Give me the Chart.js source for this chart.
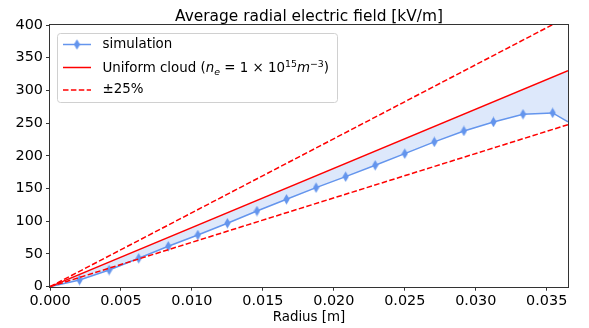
<!DOCTYPE html>
<html><head><meta charset="utf-8">
<script src="https://cdn.jsdelivr.net/npm/chart.js@4"></script>
<style>html,body{margin:0;padding:0;background:#fff}#wrap{width:589px;height:328px}</style>
</head><body><div id="wrap"><canvas id="c" width="589" height="328"></canvas></div>
<script>
// ---- data ----
const radius = [0, 0.002083, 0.004167, 0.00625, 0.008333, 0.010417, 0.0125, 0.014583, 0.016667, 0.01875, 0.020833, 0.022917, 0.025, 0.027083, 0.029167, 0.03125, 0.033333, 0.035417, 0.0365];
const efield = [0, 10.2, 25.5, 43.4, 61.8, 79.0, 97.0, 115.7, 133.6, 151.4, 168.2, 185.6, 203.4, 221.3, 238.0, 251.8, 263.6, 265.6, 252.0];
const modelRadius = [0, 0.0365];
const uniformField = [0, 330.2];
const upperField = [0, 412.8];
const lowerField = [0, 247.7];
const xTicks = [0, 0.005, 0.010, 0.015, 0.020, 0.025, 0.030, 0.035];
const yTicks = [0, 50, 100, 150, 200, 250, 300, 350, 400];
const titleText = 'Average radial electric field [kV/m]';
const xLabel = 'Radius [m]';
const seriesLabels = ['simulation', 'Uniform cloud', '\u00b125%'];

const FONT = '"DejaVu Sans", sans-serif';
const BLUE = '#6495ed';
const RED = '#ff0000';

const pts = (xs, ys) => xs.map((x, i) => ({x: x, y: ys[i]}));

// thin diamond marker
const mk = document.createElement('canvas');
mk.width = 7; mk.height = 11;
(function () {
  const m = mk.getContext('2d');
  m.fillStyle = BLUE;
  m.beginPath();
  m.moveTo(3.5, 0.3); m.lineTo(6.6, 5.5); m.lineTo(3.5, 10.7); m.lineTo(0.4, 5.5);
  m.closePath(); m.fill();
})();

const frame = {
  id: 'frame',
  afterDraw(chart) {
    const ctx = chart.ctx, a = chart.chartArea;
    ctx.save();
    // spines
    ctx.strokeStyle = '#333';
    ctx.lineWidth = 1;
    ctx.strokeRect(Math.round(a.left) - 0.5, Math.round(a.top) - 0.5, Math.round(a.right - a.left) + 1, Math.round(a.bottom - a.top) + 1);
    // title
    ctx.fillStyle = '#000';
    ctx.font = '15.4px ' + FONT;
    ctx.textAlign = 'center';
    ctx.textBaseline = 'alphabetic';
    ctx.fillText(titleText, (a.left + a.right) / 2, 21);
    // legend box
    const bx = 57.5, by = 33.5, bw = 280, bh = 69;
    ctx.fillStyle = 'rgba(255,255,255,0.85)';
    ctx.strokeStyle = '#d0d0d0';
    ctx.lineWidth = 1;
    ctx.beginPath();
    ctx.roundRect(bx, by, bw, bh, 3);
    ctx.fill(); ctx.stroke();
    const lx0 = 63, lx1 = 91, tx = 102.5;
    const rows = [44.5, 67.5, 90];
    // row 1 simulation
    ctx.strokeStyle = BLUE; ctx.lineWidth = 1.5; ctx.setLineDash([]);
    ctx.beginPath(); ctx.moveTo(lx0, rows[0]); ctx.lineTo(lx1, rows[0]); ctx.stroke();
    ctx.drawImage(mk, (lx0 + lx1) / 2 - mk.width / 2, rows[0] - mk.height / 2);
    // row 2 uniform
    ctx.strokeStyle = RED;
    ctx.beginPath(); ctx.moveTo(lx0, rows[1]); ctx.lineTo(lx1, rows[1]); ctx.stroke();
    // row 3 dashed
    ctx.setLineDash([5.5, 2.4]);
    ctx.beginPath(); ctx.moveTo(lx0, rows[2]); ctx.lineTo(lx1, rows[2]); ctx.stroke();
    ctx.setLineDash([]);
    // text
    const fs = 13.4;
    ctx.fillStyle = '#000';
    ctx.textAlign = 'left';
    ctx.textBaseline = 'middle';
    ctx.font = fs + 'px ' + FONT;
    ctx.fillText(seriesLabels[0], tx, rows[0]);
    ctx.fillText(seriesLabels[2], tx, rows[2]);
    // rich text row 2
    const parts = [
      {t: seriesLabels[1] + ' (', s: 1, it: false, dy: 0},
      {t: 'n', s: 1, it: true, dy: 0},
      {t: 'e', s: 0.7, it: true, dy: 0.2},
      {t: ' = 1 \u00d7 10', s: 1, it: false, dy: 0},
      {t: '15', s: 0.7, it: false, dy: -0.42},
      {t: 'm', s: 1, it: true, dy: 0},
      {t: '\u22123', s: 0.7, it: false, dy: -0.42},
      {t: ')', s: 1, it: false, dy: 0}
    ];
    let x = tx;
    ctx.textBaseline = 'alphabetic';
    const base = rows[1] + 0.36 * fs;
    for (const p of parts) {
      ctx.font = (p.it ? 'oblique ' : '') + (fs * p.s) + 'px ' + FONT;
      ctx.fillText(p.t, x, base + p.dy * fs);
      x += ctx.measureText(p.t).width;
    }
    ctx.restore();
  }
};

new Chart(document.getElementById('c'), {
  type: 'line',
  data: {
    datasets: [
      {
        label: seriesLabels[0],
        data: pts(radius, efield),
        borderColor: BLUE,
        borderWidth: 1.5,
        backgroundColor: 'rgba(100,149,237,0.22)',
        fill: {target: 1},
        pointStyle: mk,
        pointRadius: (c) => (c.dataIndex === 0 || c.dataIndex === radius.length - 1) ? 0 : 4,
        tension: 0,
        order: 3
      },
      {
        label: seriesLabels[1],
        data: pts(modelRadius, uniformField),
        borderColor: RED,
        borderWidth: 1.5,
        pointRadius: 0,
        fill: false,
        order: 1
      },
      {
        label: seriesLabels[2],
        data: pts(modelRadius, upperField),
        borderColor: RED,
        borderWidth: 1.5,
        borderDash: [5.5, 2.4],
        pointRadius: 0,
        fill: false,
        order: 2
      },
      {
        label: '_lower',
        data: pts(modelRadius, lowerField),
        borderColor: RED,
        borderWidth: 1.5,
        borderDash: [5.5, 2.4],
        pointRadius: 0,
        fill: false,
        order: 2
      }
    ]
  },
  options: {
    responsive: false,
    animation: false,
    devicePixelRatio: 1,
    layout: {padding: {top: 25, right: 21, left: 0, bottom: 0}},
    plugins: {legend: {display: false}, title: {display: false}, tooltip: {enabled: false}},
    scales: {
      x: {
        type: 'linear', min: 0, max: 0.0365,
        afterBuildTicks: (s) => { s.ticks = xTicks.map(v => ({value: v})); },
        afterFit: (s) => { s.height = 41.3; },
        ticks: {callback: (v) => Number(v).toFixed(3), color: '#000', font: {family: FONT, size: 14.4}, padding: 2, maxRotation: 0, autoSkip: false},
        grid: {drawOnChartArea: false, drawTicks: true, tickLength: 4, color: '#333'},
        border: {display: false},
        title: {display: true, text: xLabel, color: '#000', font: {family: FONT, size: 13.4}, padding: {top: 0, bottom: 2}}
      },
      y: {
        type: 'linear', min: 0, max: 400,
        afterBuildTicks: (s) => { s.ticks = yTicks.map(v => ({value: v})); },
        afterFit: (s) => { s.width = 50; },
        ticks: {callback: (v) => String(v), color: '#000', font: {family: FONT, size: 14.4}, padding: 3, autoSkip: false},
        grid: {drawOnChartArea: false, drawTicks: true, tickLength: 4, color: '#333'},
        border: {display: false}
      }
    }
  },
  plugins: [frame]
});
</script>
</body></html>
